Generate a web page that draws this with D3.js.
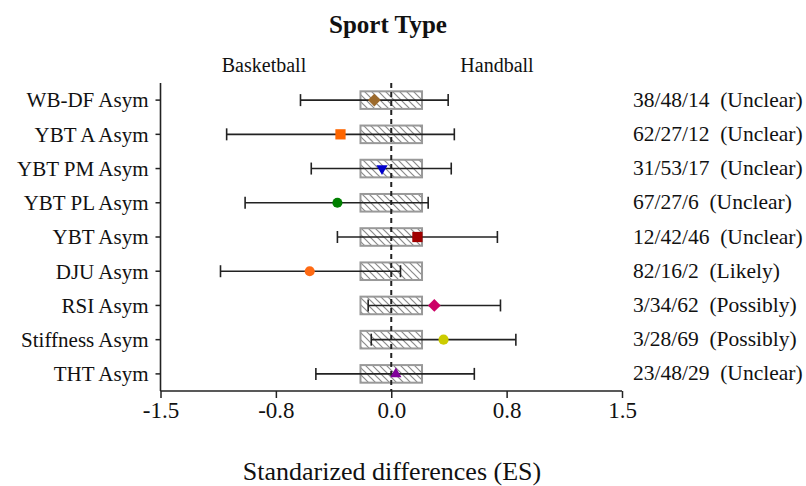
<!DOCTYPE html>
<html><head><meta charset="utf-8">
<script src="https://cdn.jsdelivr.net/npm/d3@7"></script>
<style>body{margin:0;background:#fff}svg{display:block}text{font-family:"Liberation Serif","Times New Roman",serif}</style>
</head><body><div id="chart"></div>
<script>
const categories = ["WB-DF Asym","YBT A Asym","YBT PM Asym","YBT PL Asym","YBT Asym","DJU Asym","RSI Asym","Stiffness Asym","THT Asym"];
const estimates = [-0.11,-0.33,-0.06,-0.35,0.17,-0.53,0.28,0.34,0.03];
const lowerCI = [-0.59,-1.07,-0.52,-0.95,-0.35,-1.11,-0.15,-0.13,-0.49];
const upperCI = [0.37,0.41,0.39,0.24,0.69,0.06,0.71,0.81,0.54];
const inferences = ["38/48/14  (Unclear)","62/27/12  (Unclear)","31/53/17  (Unclear)","67/27/6  (Unclear)","12/42/46  (Unclear)","82/16/2  (Likely)","3/34/62  (Possibly)","3/28/69  (Possibly)","23/48/29  (Unclear)"];
const markerShapes = ["diamond","square","triDown","circle","square","circle","diamond","circle","triUp"];
const markerColors = ["#9C6A2C","#FF6600","#0000CC","#008000","#A00000","#FF6A13","#CC0066","#CCCC00","#7F0099"];
const tickValues = [-1.5,-0.75,0,0.75,1.5];
const tickLabels = ["-1.5","-0.8","0.0","0.8","1.5"];
const swc = 0.2;

const FONT='"Liberation Serif","Times New Roman",serif';
const W=806,H=486;
const svg=d3.select("#chart").append("svg").attr("width",W).attr("height",H);
const x=d3.scaleLinear().domain([-1.5,1.5]).range([160.5,622]);
const y=d3.scaleBand().domain(categories).range([83,391]).padding(0);
const yc=c=>y(c)+y.bandwidth()/2;

const defs=svg.append("defs");
const pat=defs.append("pattern").attr("id","hatch").attr("patternUnits","userSpaceOnUse").attr("width",7).attr("height",7);
pat.append("rect").attr("width",7).attr("height",7).attr("fill","#fff");
pat.append("path").attr("d","M-1,-1 L8,8 M-8,-1 L1,8 M6,-1 L15,8").attr("stroke","#8a8a8a").attr("stroke-width",1.2);

// SWC boxes
svg.append("g").selectAll("rect").data(categories).join("rect")
  .attr("x",x(-swc)).attr("width",x(swc)-x(-swc))
  .attr("y",c=>yc(c)-8.8).attr("height",17.6)
  .attr("fill","url(#hatch)").attr("stroke","#999").attr("stroke-width",2);

// zero line
svg.append("line").attr("x1",x(0)).attr("x2",x(0)).attr("y1",83).attr("y2",391)
  .attr("stroke","#222").attr("stroke-width",2).attr("stroke-dasharray","5,4");

// error bars
const eb=svg.append("g").selectAll("g").data(categories).join("g");
eb.append("line").attr("x1",(c,i)=>x(lowerCI[i])).attr("x2",(c,i)=>x(upperCI[i]))
  .attr("y1",yc).attr("y2",yc).attr("stroke","#222").attr("stroke-width",1.6);
eb.append("line").attr("x1",(c,i)=>x(lowerCI[i])).attr("x2",(c,i)=>x(lowerCI[i]))
  .attr("y1",c=>yc(c)-6).attr("y2",c=>yc(c)+6).attr("stroke","#222").attr("stroke-width",1.6);
eb.append("line").attr("x1",(c,i)=>x(upperCI[i])).attr("x2",(c,i)=>x(upperCI[i]))
  .attr("y1",c=>yc(c)-6).attr("y2",c=>yc(c)+6).attr("stroke","#222").attr("stroke-width",1.6);

const sym={diamond:[d3.symbolSquare,82," rotate(45)"],square:[d3.symbolSquare,105,""],circle:[d3.symbolCircle,80,""],triDown:[d3.symbolTriangle,55," rotate(180)"],triUp:[d3.symbolTriangle,55,""]};
svg.append("g").selectAll("path").data(categories).join("path")
  .attr("d",(c,i)=>d3.symbol().type(sym[markerShapes[i]][0]).size(sym[markerShapes[i]][1])())
  .attr("transform",(c,i)=>`translate(${x(estimates[i])},${yc(c)})`+sym[markerShapes[i]][2])
  .attr("fill",(c,i)=>markerColors[i]);

// axes
const ya=svg.append("g").attr("transform","translate(160.5,0)")
  .call(d3.axisLeft(y).tickSize(5).tickPadding(7));
ya.attr("font-family",FONT);
ya.selectAll("text").attr("font-size",21).attr("fill","#111").attr("dy","0.35em");
ya.select(".domain").attr("stroke","#222").attr("stroke-width",1.6).attr("d","M0,83V391");
ya.selectAll(".tick line").attr("stroke","#222").attr("stroke-width",1.5);

const xa=svg.append("g").attr("transform","translate(0,391)")
  .call(d3.axisBottom(x).tickValues(tickValues).tickFormat((d,i)=>tickLabels[i]).tickSize(7).tickPadding(4));
xa.attr("font-family",FONT);
xa.selectAll("text").attr("font-size",23).attr("fill","#111");
xa.select(".domain").attr("stroke","#222").attr("stroke-width",1.6).attr("d","M160.5,0H622");
xa.selectAll(".tick line").attr("stroke","#222").attr("stroke-width",1.5);

// right labels
svg.append("g").selectAll("text").data(categories).join("text")
  .attr("x",633).attr("y",c=>yc(c)-1).attr("dy","0.35em")
  .attr("font-size",21.5).attr("fill","#111").style("white-space","pre")
  .text((c,i)=>inferences[i]);

svg.append("text").attr("x",388).attr("y",33).attr("text-anchor","middle")
  .attr("font-size",25).attr("font-weight","bold").attr("fill","#111").text("Sport Type");
svg.append("text").attr("x",264).attr("y",72).attr("text-anchor","middle")
  .attr("font-size",20).attr("fill","#111").text("Basketball");
svg.append("text").attr("x",497).attr("y",72).attr("text-anchor","middle")
  .attr("font-size",20).attr("fill","#111").text("Handball");
svg.append("text").attr("x",392).attr("y",480).attr("text-anchor","middle")
  .attr("font-size",26).attr("fill","#111").text("Standarized differences (ES)");
</script></body></html>
